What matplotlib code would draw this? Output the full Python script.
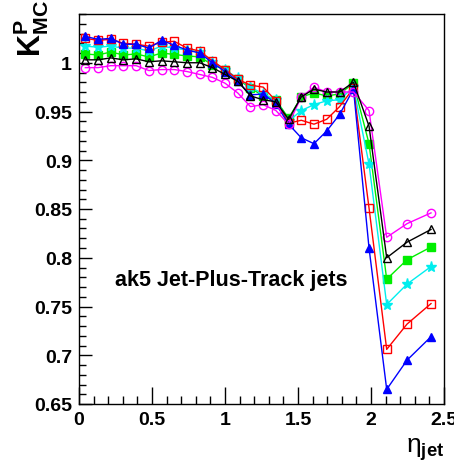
import numpy as np
import matplotlib
matplotlib.use('Agg')
import matplotlib.pyplot as plt
from matplotlib.ticker import MultipleLocator, FixedLocator, FixedFormatter

plt.rcParams['font.family'] = ['Liberation Sans', 'DejaVu Sans']
plt.rcParams['mathtext.fontset'] = 'custom'
plt.rcParams['mathtext.rm'] = 'Liberation Sans'
plt.rcParams['mathtext.it'] = 'Liberation Sans:italic'
plt.rcParams['mathtext.bf'] = 'Liberation Sans:bold'

# calorimeter tower bin centres in eta
eta = [0.0435, 0.1305, 0.2175, 0.3045, 0.3915, 0.4785, 0.5655, 0.6525, 0.7395,
       0.8265, 0.9135, 1.0005, 1.0875, 1.1745, 1.2615, 1.3485, 1.4355, 1.5225,
       1.6095, 1.6965, 1.785, 1.88, 1.9865, 2.1075, 2.247, 2.411]

# K^P_MC per pt bin
k_blue = [1.027, 1.024, 1.025, 1.019, 1.019, 1.015, 1.023, 1.018, 1.013, 1.010,
          1.000, 0.991, 0.981, 0.967, 0.968, 0.958, 0.937, 0.923, 0.917, 0.930,
          0.947, 0.973, 0.810, 0.665, 0.695, 0.719]
k_red = [1.025, 1.023, 1.024, 1.020, 1.019, 1.017, 1.021, 1.022, 1.015, 1.012,
         1.002, 0.993, 0.983, 0.977, 0.975, 0.961, 0.938, 0.941, 0.937, 0.942,
         0.955, 0.974, 0.851, 0.706, 0.732, 0.753]
k_cyan = [1.017, 1.016, 1.017, 1.015, 1.015, 1.012, 1.017, 1.015, 1.013, 1.011,
          1.001, 0.993, 0.984, 0.975, 0.968, 0.962, 0.940, 0.951, 0.957, 0.961,
          0.962, 0.975, 0.896, 0.752, 0.773, 0.791]
k_green = [1.009, 1.008, 1.011, 1.008, 1.009, 1.006, 1.010, 1.0085, 1.007, 1.006,
           0.998, 0.993, 0.983, 0.974, 0.966, 0.962, 0.943, 0.965, 0.969, 0.966,
           0.968, 0.979, 0.917, 0.778, 0.798, 0.811]
k_black = [1.003, 1.003, 1.005, 1.003, 1.004, 1.001, 1.002, 1.001, 1.000, 1.000,
           0.995, 0.988, 0.981, 0.966, 0.962, 0.960, 0.942, 0.965, 0.973, 0.970,
           0.970, 0.980, 0.935, 0.800, 0.816, 0.829]
k_magenta = [0.995, 0.995, 0.997, 0.997, 0.997, 0.992, 0.993, 0.993, 0.991, 0.988,
             0.985, 0.979, 0.969, 0.955, 0.957, 0.951, 0.937, 0.965, 0.975, 0.970,
             0.970, 0.970, 0.951, 0.821, 0.835, 0.846]

y_ticks = [0.65, 0.7, 0.75, 0.8, 0.85, 0.9, 0.95, 1.0]
y_labels = ['0.65', '0.7', '0.75', '0.8', '0.85', '0.9', '0.95', '1']
x_ticks = [0, 0.5, 1, 1.5, 2, 2.5]
x_labels = ['0', '0.5', '1', '1.5', '2', '2.5']

fig = plt.figure(figsize=(4.54, 4.64), dpi=100)
ax = fig.add_axes([79 / 454, 1 - 405 / 464, 365 / 454, 390 / 464])

ms = 6
ax.plot(eta, k_green, '-s', color='#00ee00', mfc='#00ee00', ms=ms, lw=1)
ax.plot(eta, k_cyan, '-*', color='#00eeee', mfc='#00eeee', ms=ms + 2, lw=1)
ax.plot(eta, k_red, '-s', color='red', mfc='none', ms=ms, lw=1)
ax.plot(eta, k_blue, '-^', color='blue', mfc='blue', ms=ms, lw=1)
ax.plot(eta, k_magenta, '-o', color='#ff00ff', mfc='none', ms=ms, lw=1)
ax.plot(eta, k_black, '-^', color='black', mfc='none', ms=ms, lw=1)

ax.set_xlim(0, 2.5)
ax.set_ylim(0.65, 1.05)

ax.xaxis.set_major_locator(FixedLocator(x_ticks))
ax.xaxis.set_major_formatter(FixedFormatter(x_labels))
ax.xaxis.set_minor_locator(MultipleLocator(0.1))
ax.yaxis.set_major_locator(FixedLocator(y_ticks))
ax.yaxis.set_major_formatter(FixedFormatter(y_labels))
ax.yaxis.set_minor_locator(MultipleLocator(0.01))

ax.tick_params(axis='both', which='both', direction='in', top=False, right=False,
               width=1, labelsize=14, pad=5)
ax.tick_params(axis='x', which='major', length=12)
ax.tick_params(axis='x', which='minor', length=6)
ax.tick_params(axis='y', which='major', length=9)
ax.tick_params(axis='y', which='minor', length=5)
for lab in ax.get_xticklabels() + ax.get_yticklabels():
    lab.set_fontweight('bold')
for sp in ax.spines.values():
    sp.set_linewidth(1)

ax.text(0.247, 0.7776, 'ak5 Jet-Plus-Track jets', fontsize=15.5, fontweight='bold',
        ha='left', va='center')

fig.text(31 / 454, 1.0, r'$\mathbf{K}^{\mathbf{P}}_{\mathbf{MC}}$', fontsize=22,
         rotation=90, ha='center', va='top')
fig.text(444 / 454, 0.002, r'$\mathrm{\eta}_{\mathbf{jet}}$', fontsize=19,
         ha='right', va='bottom')

fig.savefig('out.png', dpi=100)
